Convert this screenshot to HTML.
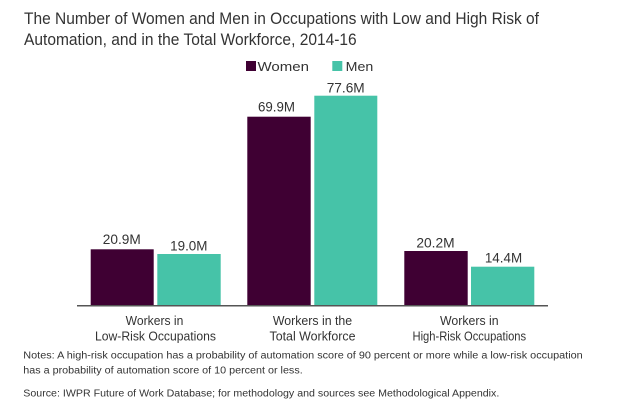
<!DOCTYPE html>
<html>
<head>
<meta charset="utf-8">
<style>
  html,body{margin:0;padding:0;background:#fff;}
  svg{display:block;}
  text{font-family:"Liberation Sans",sans-serif;fill:#333;}
</style>
</head>
<body>
<svg width="620" height="416" viewBox="0 0 620 416" xmlns="http://www.w3.org/2000/svg">
  <rect x="0" y="0" width="620" height="416" fill="#fff"/>
  <!-- Title -->
  <text x="24" y="24" font-size="16.5" textLength="515" lengthAdjust="spacingAndGlyphs">The Number of Women and Men in Occupations with Low and High Risk of</text>
  <text x="24" y="45" font-size="16.5" textLength="332.7" lengthAdjust="spacingAndGlyphs">Automation, and in the Total Workforce, 2014-16</text>

  <!-- Legend -->
  <rect x="246" y="61" width="10" height="10" fill="#3f0033"/>
  <text x="257.5" y="71" font-size="12.5" textLength="51.5" lengthAdjust="spacingAndGlyphs">Women</text>
  <rect x="332.3" y="61" width="10" height="10" fill="#46c3a8"/>
  <text x="345.7" y="71" font-size="12.5" textLength="27.6" lengthAdjust="spacingAndGlyphs">Men</text>

  <!-- Bars -->
  <rect x="90.7" y="249.3" width="63" height="56.2" fill="#3f0033"/>
  <rect x="157.3" y="254" width="63.4" height="51.5" fill="#46c3a8"/>
  <rect x="247.3" y="116.7" width="63.4" height="188.8" fill="#3f0033"/>
  <rect x="314.3" y="95.7" width="63" height="209.8" fill="#46c3a8"/>
  <rect x="404.3" y="251" width="63.4" height="54.5" fill="#3f0033"/>
  <rect x="471" y="266.7" width="63.3" height="38.8" fill="#46c3a8"/>

  <!-- Axis -->
  <line x1="77" y1="305.8" x2="548" y2="305.8" stroke="#555" stroke-width="1.5"/>

  <!-- Value labels -->
  <g font-size="14" text-anchor="middle">
    <text x="121.8" y="244" textLength="38" lengthAdjust="spacingAndGlyphs">20.9M</text>
    <text x="188.8" y="250.5" textLength="37.3" lengthAdjust="spacingAndGlyphs">19.0M</text>
    <text x="276.5" y="111.7" textLength="37" lengthAdjust="spacingAndGlyphs">69.9M</text>
    <text x="345.7" y="92.5" textLength="38" lengthAdjust="spacingAndGlyphs">77.6M</text>
    <text x="435.5" y="247.3" textLength="38.3" lengthAdjust="spacingAndGlyphs">20.2M</text>
    <text x="503.5" y="262.5" textLength="37.3" lengthAdjust="spacingAndGlyphs">14.4M</text>
  </g>

  <!-- Category labels -->
  <g font-size="13" text-anchor="middle">
    <text x="154.5" y="325" textLength="57.7" lengthAdjust="spacingAndGlyphs">Workers in</text>
    <text x="155.5" y="340.7" textLength="121" lengthAdjust="spacingAndGlyphs">Low-Risk Occupations</text>
    <text x="312.5" y="325" textLength="79.3" lengthAdjust="spacingAndGlyphs">Workers in the</text>
    <text x="312.5" y="340.7" textLength="86" lengthAdjust="spacingAndGlyphs">Total Workforce</text>
    <text x="469.3" y="325" textLength="58.6" lengthAdjust="spacingAndGlyphs">Workers in</text>
    <text x="469.3" y="340.7" textLength="113.6" lengthAdjust="spacingAndGlyphs">High-Risk Occupations</text>
  </g>

  <!-- Notes -->
  <g font-size="9.8">
    <text x="23.3" y="358.3" textLength="559.4" lengthAdjust="spacingAndGlyphs">Notes: A high-risk occupation has a probability of automation score of 90 percent or more while a low-risk occupation</text>
    <text x="23.3" y="373.3" textLength="279.4" lengthAdjust="spacingAndGlyphs">has a probability of automation score of 10 percent or less.</text>
    <text x="23.3" y="396.7" textLength="476" lengthAdjust="spacingAndGlyphs">Source: IWPR Future of Work Database; for methodology and sources see Methodological Appendix.</text>
  </g>
</svg>
</body>
</html>
